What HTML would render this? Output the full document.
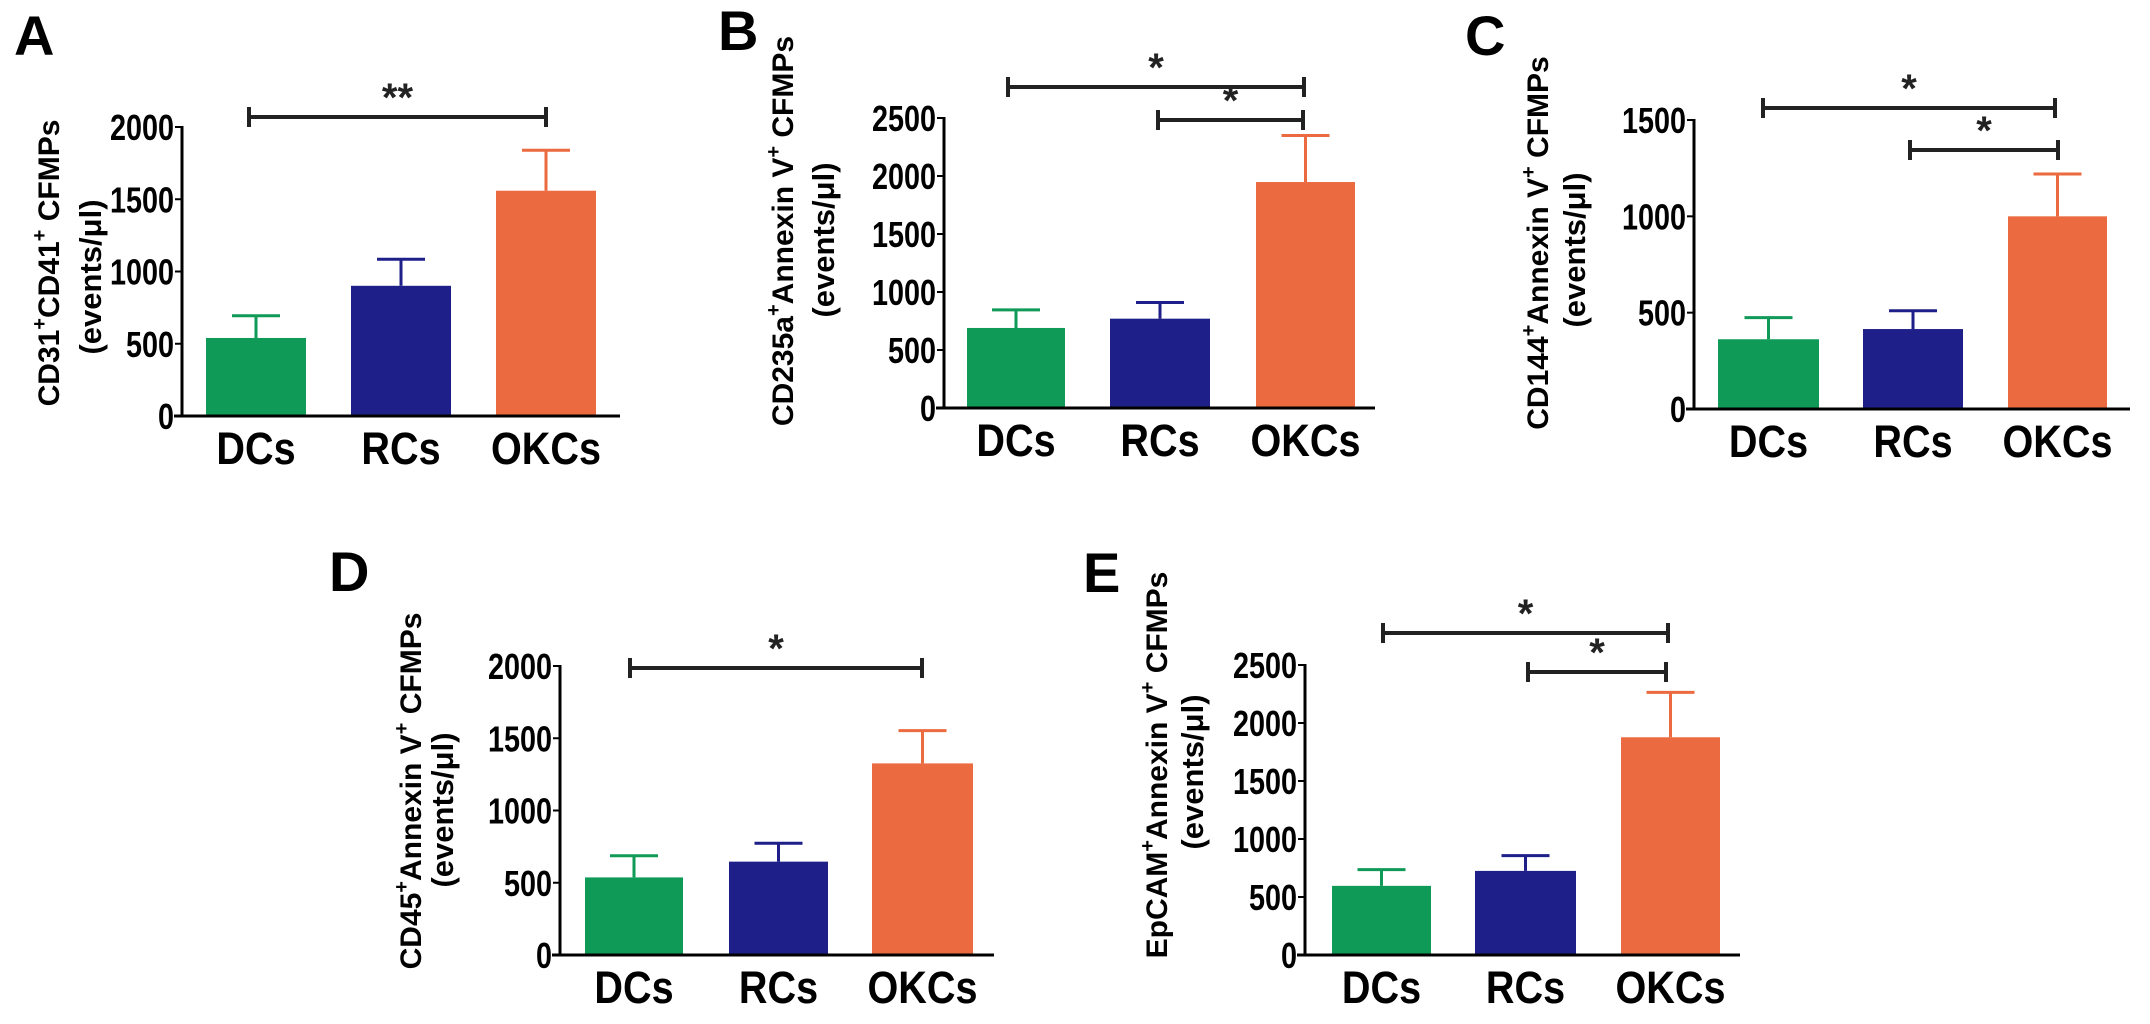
<!DOCTYPE html>
<html><head><meta charset="utf-8"><style>
html,body{margin:0;padding:0;background:#fff;}
svg{display:block;font-family:"Liberation Sans",Arial,sans-serif;}
</style></head><body>
<svg id="fig" width="2150" height="1024" viewBox="0 0 2150 1024" xmlns="http://www.w3.org/2000/svg"></svg>
<script>
const categories = ["DCs","RCs","OKCs"];
const valuesA = [540, 901, 1559];
const errorsA = [694, 1085, 1839];
const valuesB = [690, 770, 1948];
const errorsB = [846, 909, 2349];
const valuesC = [362, 415, 1000];
const errorsC = [474, 510, 1220];
const valuesD = [537, 646, 1326];
const errorsD = [687, 773, 1553];
const valuesE = [596, 725, 1877];
const errorsE = [736, 857, 2264];
const ticksA = [0,500,1000,1500,2000];
const ticksB = [0,500,1000,1500,2000,2500];
const ticksC = [0,500,1000,1500];
const ticksD = [0,500,1000,1500,2000];
const ticksE = [0,500,1000,1500,2000,2500];

const colors = ["#0f9a57","#1f1f8a","#ec6a3f"];
const NS = "http://www.w3.org/2000/svg";
const svg = document.getElementById("fig");
function mk(tag, attrs, parent, text){
  const e = document.createElementNS(NS, tag);
  for (const k in attrs) e.setAttribute(k, attrs[k]);
  if (text !== undefined) e.textContent = text;
  (parent||svg).appendChild(e);
  return e;
}

const panels = [
  {id:"a", letter:"A", lx:14, ly:55, ax:182, y0:416, ymax:2000, ytop:127, xend:620,
   bars:[[206,306],[351,451],[496,596]], vals:valuesA, errs:errorsA, ticks:ticksA,
   t1:["CD31","+","CD41","+"," CFMPs"], t1x:51, t1y:263, t2x:93, t2y:277,
   brackets:[[249,546,117,"**"]]},
  {id:"b", letter:"B", lx:718, ly:50, ax:944, y0:408, ymax:2500, ytop:118, xend:1375,
   bars:[[967,1065],[1110,1210],[1256,1355]], vals:valuesB, errs:errorsB, ticks:ticksB,
   t1:["CD235a","+","Annexin V","+","  CFMPs"], t1x:785, t1y:231, t2x:826, t2y:240,
   brackets:[[1008,1304,87,"*"],[1158,1303,120,"*"]]},
  {id:"c", letter:"C", lx:1465, ly:55, ax:1694, y0:409, ymax:1500, ytop:120, xend:2130,
   bars:[[1718,1819],[1863,1963],[2008,2107]], vals:valuesC, errs:errorsC, ticks:ticksC,
   t1:["CD144","+","Annexin V","+"," CFMPs"], t1x:1540, t1y:243, t2x:1577, t2y:250,
   brackets:[[1763,2055,108,"*"],[1910,2058,150,"*"]]},
  {id:"d", letter:"D", lx:329, ly:591, ax:560, y0:955, ymax:2000, ytop:666, xend:994,
   bars:[[585,683],[729,828],[872,973]], vals:valuesD, errs:errorsD, ticks:ticksD,
   t1:["CD45","+","Annexin V","+"," CFMPs"], t1x:413, t1y:791, t2x:445, t2y:810,
   brackets:[[630,922,668,"*"]]},
  {id:"e", letter:"E", lx:1083, ly:592, ax:1305, y0:955, ymax:2500, ytop:665, xend:1740,
   bars:[[1332,1431],[1475,1576],[1621,1720]], vals:valuesE, errs:errorsE, ticks:ticksE,
   t1:["EpCAM","+","Annexin V","+","  CFMPs"], t1x:1159, t1y:765, t2x:1195, t2y:772,
   brackets:[[1383,1668,633,"*"],[1528,1666,672,"*"]]}
];

panels.forEach(p => {
  const g = mk("g", {});
  
  
  const yScale = v => p.y0 - (v / p.ymax) * (p.y0 - p.ytop);

  const L = mk("text", {x:p.lx, y:p.ly, "font-size":56, "font-weight":"bold", fill:"#000"}, g, p.letter);
  
  

  p.bars.forEach((b, i) => {
    const v = p.vals[i], e = p.errs[i];
    const top = yScale(v), et = yScale(e);
    const cx = (b[0] + b[1]) / 2;
    const r = mk("rect", {x:b[0], y:top, width:b[1]-b[0], height:p.y0-top, fill:colors[i]}, g);
    
    
    const el = mk("path", {d:`M${cx},${top} V${et} M${cx-24},${et} H${cx+24}`, stroke:colors[i], "stroke-width":3, fill:"none"}, g);
    
    
    const xl = mk("text", {x:0, y:0, "font-size":45, "font-weight":"bold", "text-anchor":"middle", fill:"#000", transform:`translate(${cx},${p.y0+48}) scale(0.88,1)`}, g, categories[i]);
    
    
  });

  const ya = mk("line", {x1:p.ax, y1:p.ytop-1, x2:p.ax, y2:p.y0, stroke:"#000", "stroke-width":3}, g);
  
  
  const xa = mk("line", {x1:p.ax-8, y1:p.y0, x2:p.xend, y2:p.y0, stroke:"#000", "stroke-width":3}, g);
  
  
  p.ticks.forEach(t => {
    const y = yScale(t);
    const tk = mk("line", {x1:p.ax-7, y1:y, x2:p.ax, y2:y, stroke:"#000", "stroke-width":2}, g);
    
    
    const tl = mk("text", {x:0, y:0, "font-size":36, "font-weight":"bold", "text-anchor":"end", fill:"#000", transform:`translate(${p.ax-8},${y+13}) scale(0.8,1)`}, g, String(t));
    
    
  });

  const t1 = mk("text", {x:0, y:0, "font-size":30, "font-weight":"bold", "text-anchor":"middle", "dominant-baseline":"middle", fill:"#000", transform:`translate(${p.t1x},${p.t1y}) rotate(-90)`}, g);
  
  
  p.t1.forEach((s, k) => {
    mk("tspan", k % 2 === 1 ? {"font-size":20, dy:-10} : (k > 0 ? {dy:10} : {}), t1, s);
  });
  const t2 = mk("text", {x:0, y:0, "font-size":31, "font-weight":"bold", "text-anchor":"middle", "dominant-baseline":"middle", fill:"#000", transform:`translate(${p.t2x},${p.t2y}) rotate(-90)`}, g, "(events/\u03bcl)");
  
  

  p.brackets.forEach(br => {
    const [x1, x2, y, s] = br;
    const pb = mk("path", {d:`M${x1},${y-10} V${y+10} M${x1},${y} H${x2} M${x2},${y-10} V${y+10}`, stroke:"#222", "stroke-width":4, fill:"none"}, g);
    
    
    const st = mk("text", {x:(x1+x2)/2, y:y-6, "font-size":40, "font-weight":"bold", "text-anchor":"middle", fill:"#222"}, g, s);
    
    
  });
});
</script>
</body></html>
